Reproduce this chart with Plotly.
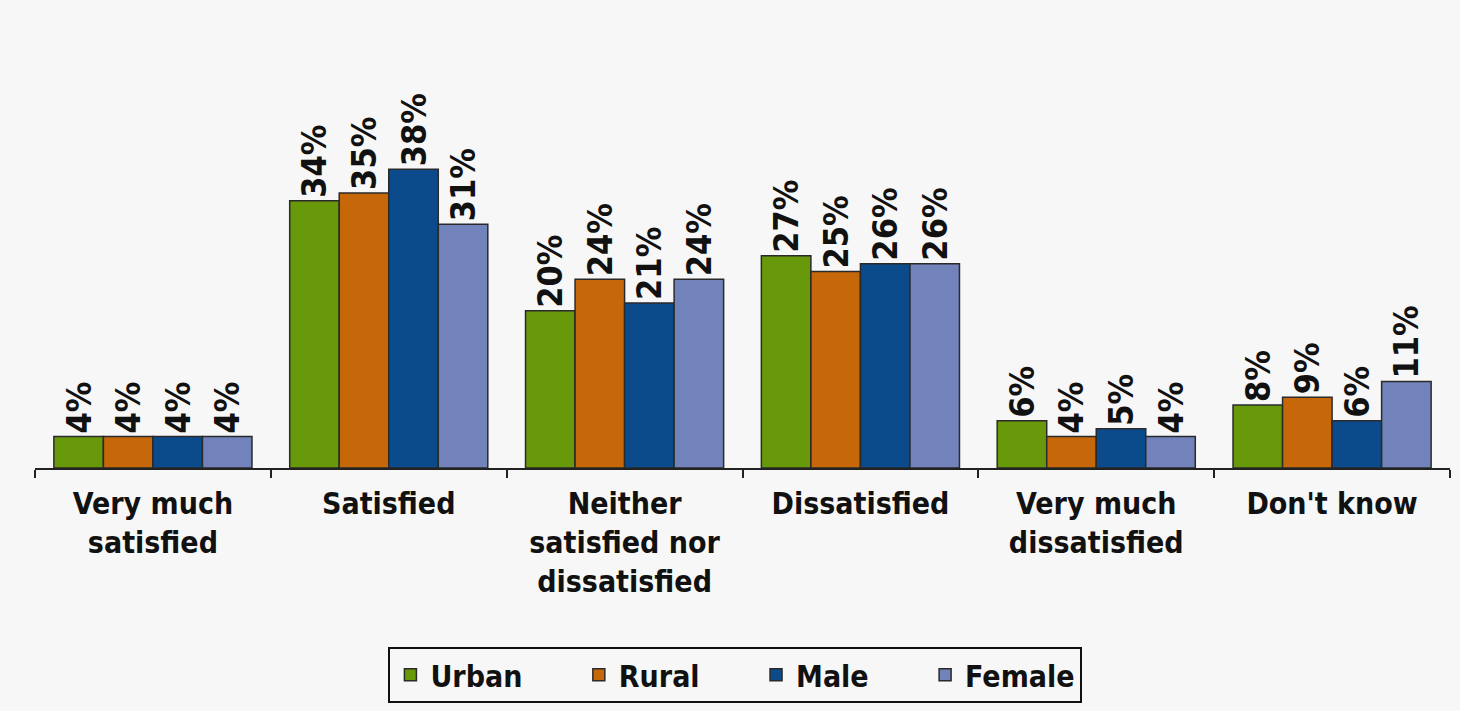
import plotly.graph_objects as go

categories = ["Very much<br>satisfied", "Satisfied", "Neither<br>satisfied nor<br>dissatisfied",
              "Dissatisfied", "Very much<br>dissatisfied", "Don't know"]
urban = [4, 34, 20, 27, 6, 8]
rural = [4, 35, 24, 25, 4, 9]
male = [4, 38, 21, 26, 5, 6]
female = [4, 31, 24, 26, 4, 11]

series = [("Urban", urban, "#68990a"), ("Rural", rural, "#c6680a"),
          ("Male", male, "#0b4b8c"), ("Female", female, "#7282ba")]

font = "DejaVu Sans Condensed, Liberation Sans Narrow, sans-serif"
pad = "\u00a0" * 6

fig = go.Figure()
for i, (name, vals, col) in enumerate(series):
    label = f"<b>{name}</b>" + (pad if i < len(series) - 1 else "")
    fig.add_trace(go.Bar(
        x=categories, y=vals, name=label,
        marker=dict(color=col, line=dict(color="#2a2a2a", width=1.5)),
        text=[f"<b>{v}%</b>" for v in vals], textposition="outside",
        textangle=-90, constraintext="none", cliponaxis=False,
        textfont=dict(family=font, size=34, color="#111"),
    ))

fig.update_layout(
    width=1460, height=711,
    barmode="group", bargap=0.16, bargroupgap=0,
    paper_bgcolor="#f7f7f7", plot_bgcolor="#f7f7f7",
    margin=dict(l=35, r=10, t=75, b=243, autoexpand=False),
    font=dict(family=font, color="#111"),
    showlegend=True,
    legend=dict(orientation="h", x=0.495, xanchor="center", y=-0.455, yanchor="top",
                bordercolor="#111", borderwidth=2, bgcolor="#f7f7f7",
                font=dict(size=30, family=font), itemwidth=30, tracegroupgap=0),
    xaxis=dict(showline=True, linecolor="#222", linewidth=2, ticks="outside",
               tickson="boundaries", ticklen=8, tickcolor="#222", tickwidth=2,
               ticklabelstandoff=8,
               tickfont=dict(size=30, family=font, color="#111"),
               tickprefix="<b>", ticksuffix="</b>"),
    yaxis=dict(range=[0, 50], visible=False, showgrid=False),
)

fig.write_html("out.html", config={"displayModeBar": False},
               post_script="document.body.style.margin='0px';")
